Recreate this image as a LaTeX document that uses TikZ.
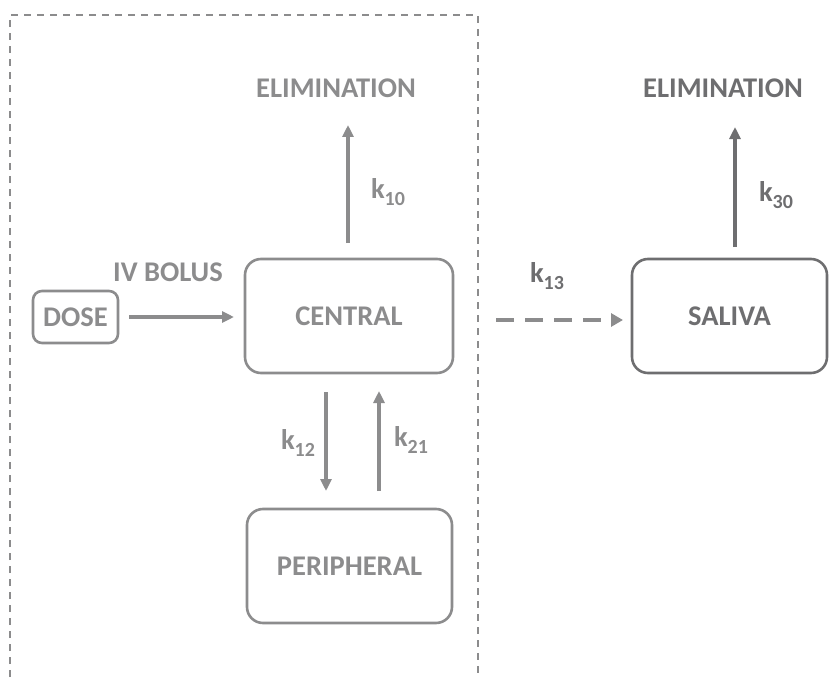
\documentclass[tikz,border=0pt]{standalone}
\usepackage{fontspec}
\setmainfont{Carlito}
\usetikzlibrary{arrows.meta}
\definecolor{lg}{HTML}{8C8C8D}
\definecolor{dg}{HTML}{6E6E70}
\newcommand{\kk}[1]{k\raisebox{-0.45ex}{\fontsize{20bp}{20bp}\selectfont #1}}
\tikzset{
  txt/.style={font=\fontsize{28.5bp}{30bp}\selectfont\bfseries, inner sep=0pt},
  comp/.style={draw=lg, line width=2.6bp, rounded corners=16bp, inner sep=0pt},
  flow/.style={line width=3.2bp, -{Triangle[length=12bp,width=11bp]}},
}
\begin{document}
\begin{tikzpicture}[x=1bp,y=-1bp]
\useasboundingbox (0,0) rectangle (829,678);
% dashed enclosure
\draw[lg, line width=1.4bp, dash pattern=on 7bp off 6bp] (10,690) -- (10,15) -- (478,15) -- (478,690);
% compartments
\node[comp, minimum width=208bp, minimum height=114bp, text=lg, txt] (central) at (349,316) {CENTRAL};
\node[comp, minimum width=205bp, minimum height=114bp, text=lg, txt] (periph) at (349.5,566) {PERIPHERAL};
\node[comp, rounded corners=9bp, minimum width=85bp, minimum height=52bp, text=lg, txt] (dose) at (75.5,317) {DOSE};
\node[comp, draw=dg, minimum width=195bp, minimum height=114bp, text=dg, txt] (saliva) at (729.5,316) {SALIVA};
% texts
\node[txt, text=lg] (elim1) at (336,88) {ELIMINATION};
\node[txt, text=dg] (elim2) at (723,88) {ELIMINATION};
\node[txt, text=lg] (bolus) at (168,272) {IV BOLUS};
% labels
\node[txt, text=lg] (k10) at (388,192) {\kk{10}};
\node[txt, text=lg] (k12) at (298,443) {\kk{12}};
\node[txt, text=lg] (k21) at (411,440) {\kk{21}};
\node[txt, text=dg] (k13) at (547,276) {\kk{13}};
\node[txt, text=dg] (k30) at (776,195) {\kk{30}};
% connectors
\coordinate (c10a) at (348,243);
\coordinate (c10b) at (348,125);
\draw[flow, lg] (c10a) -- (c10b);
\coordinate (da) at (129,317);
\coordinate (db) at (234,317);
\draw[flow, lg] (da) -- (db);
\coordinate (c12a) at (326,392);
\coordinate (c12b) at (326,491);
\draw[flow, lg] (c12a) -- (c12b);
\coordinate (c21a) at (379,491);
\coordinate (c21b) at (379,391);
\draw[flow, lg] (c21a) -- (c21b);
\coordinate (c13a) at (496,320);
\coordinate (c13b) at (623,320);
\draw[lg, line width=4.5bp, dash pattern=on 18bp off 11bp, -{Triangle[length=12bp,width=13bp]}] (c13a) -- (c13b);
\coordinate (c30a) at (735,247);
\coordinate (c30b) at (735,127);
\draw[flow, dg] (c30a) -- (c30b);
\end{tikzpicture}
\end{document}
